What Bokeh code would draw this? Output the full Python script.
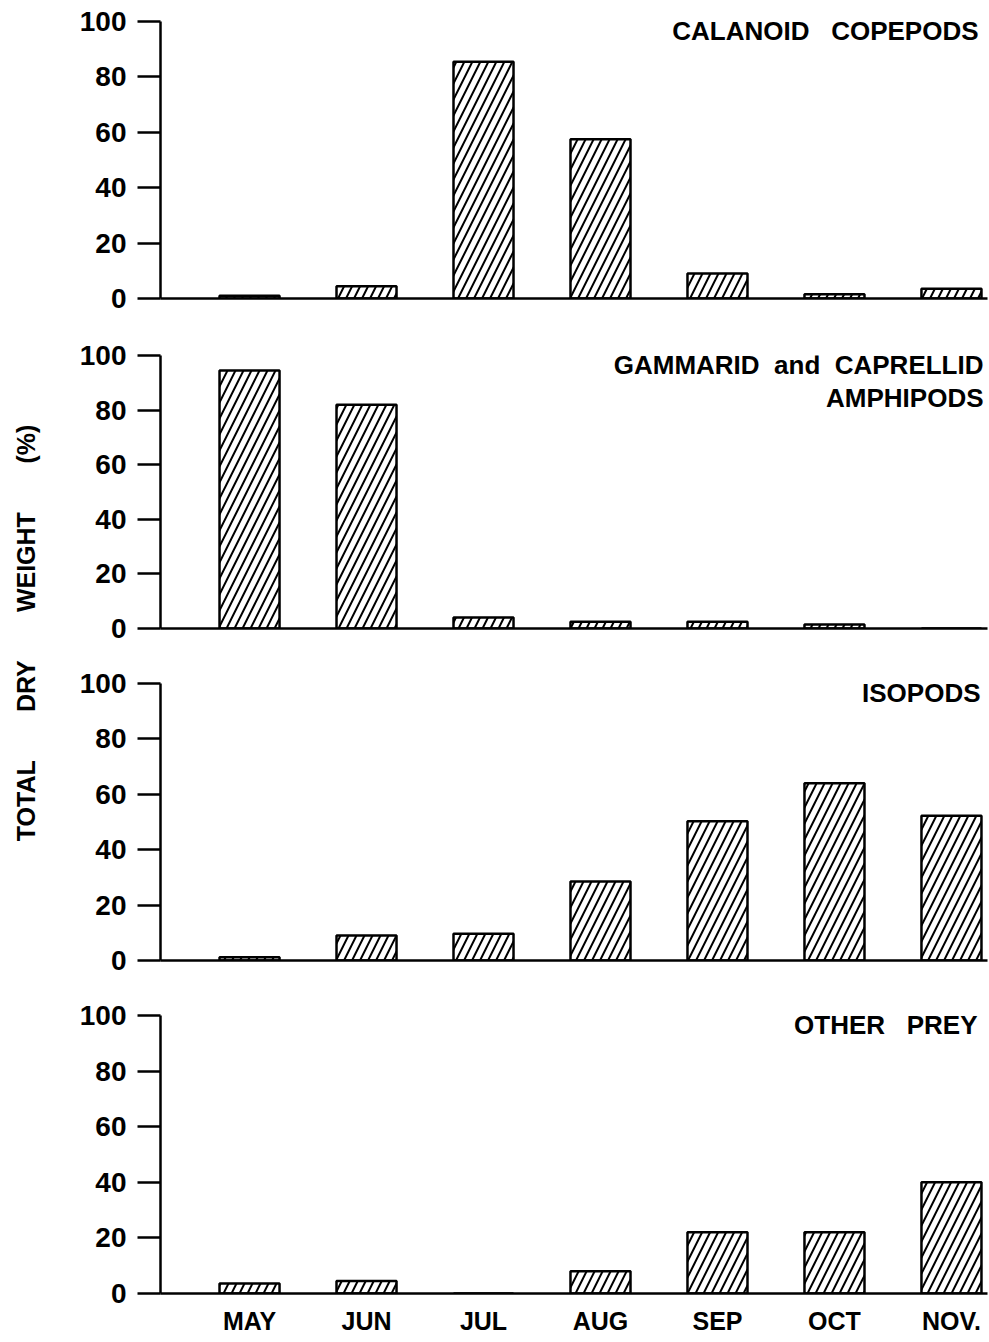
import math

from bokeh.core.properties import value
from bokeh.embed import file_html
from bokeh.layouts import column, row
from bokeh.models import FixedTicker, Label, Range1d
from bokeh.plotting import figure
from bokeh.resources import INLINE

# Monthly share of total dry weight (%) by prey group
months = ["MAY", "JUN", "JUL", "AUG", "SEP", "OCT", "NOV."]
calanoid_copepods = [1.0, 4.4, 85.5, 57.5, 9.0, 1.5, 3.5]
amphipods = [94.5, 82.0, 4.0, 2.5, 2.5, 1.5, 0.0]
isopods = [1.2, 9.0, 9.7, 28.5, 50.3, 64.0, 52.3]
other_prey = [3.6, 4.5, 0.0, 8.0, 22.0, 22.0, 40.0]

NB = "\u00a0"  # non-collapsing space for the wide word gaps
panel_titles = [
    ["CALANOID" + NB * 2 + " COPEPODS"],
    ["GAMMARID" + NB + " and" + NB + " CAPRELLID", "AMPHIPODS"],
    ["ISOPODS"],
    ["OTHER" + NB * 2 + " PREY"],
]
y_ticks = [0, 20, 40, 60, 80, 100]
y_label = ("TOTAL", "DRY", "WEIGHT", "(%)")

FONT = "Liberation Sans"
x_pos = list(range(1, len(months) + 1))
X_RANGE = (0.239, 7.308)

# (border_top, frame_height, border_bottom) for each stacked panel
panel_boxes = [(21, 277, 33), (24, 273, 30), (25, 277, 30), (25, 278, 49)]
series = [calanoid_copepods, amphipods, isopods, other_prey]
title_right_pad = [9, 4, 7, 10]

LEFT_STRIP = 50
MAIN_W = 989 - LEFT_STRIP
BORDER_LEFT = 110
BORDER_RIGHT = 2


def make_panel(values, title_lines, box, pad, show_months):
    top, frame_h, bottom = box
    p = figure(
        width=MAIN_W,
        height=top + frame_h + bottom,
        x_range=Range1d(*X_RANGE),
        y_range=Range1d(0, 100),
        output_backend="svg",
        toolbar_location=None,
        min_border_left=BORDER_LEFT,
        min_border_right=BORDER_RIGHT,
        min_border_top=top,
        min_border_bottom=bottom,
    )
    p.outline_line_color = None
    p.xgrid.visible = False
    p.ygrid.visible = False
    p.background_fill_color = "white"
    p.border_fill_color = "white"

    p.vbar(
        x=x_pos,
        top=values,
        bottom=0,
        width=0.513,
        fill_color="white",
        line_color="black",
        line_width=2.5,
        hatch_pattern="/",
        hatch_color="black",
        hatch_weight=2.0,
        hatch_scale=16,
    )

    for i, line in enumerate(title_lines):
        p.add_layout(
            Label(
                x=X_RANGE[1],
                y=100,
                text=line,
                text_align="right",
                text_baseline="top",
                x_offset=-pad,
                y_offset=6 - i * 33,
                text_font=FONT,
                text_font_style="bold",
                text_font_size="26px",
                text_color="black",
            )
        )

    ya = p.yaxis[0]
    ya.ticker = FixedTicker(ticks=y_ticks)
    ya.axis_line_width = 2.5
    ya.axis_line_color = "black"
    ya.major_tick_line_width = 2.5
    ya.major_tick_line_color = "black"
    ya.major_tick_in = 0
    ya.major_tick_out = 23
    ya.minor_tick_line_color = None
    ya.major_label_standoff = 11
    ya.major_label_text_font = FONT
    ya.major_label_text_font_style = "bold"
    ya.major_label_text_font_size = "28px"
    ya.major_label_text_color = "black"

    xa = p.xaxis[0]
    xa.axis_line_width = 2.5
    xa.axis_line_color = "black"
    xa.major_tick_line_color = None
    xa.major_tick_in = 0
    xa.major_tick_out = 0
    xa.minor_tick_line_color = None
    if show_months:
        xa.ticker = FixedTicker(ticks=x_pos)
        xa.major_label_overrides = {x: m for x, m in zip(x_pos, months)}
        xa.major_label_standoff = 13
        xa.major_label_text_font = FONT
        xa.major_label_text_font_style = "bold"
        xa.major_label_text_font_size = "25px"
        xa.major_label_text_color = "black"
    else:
        xa.ticker = FixedTicker(ticks=[])
        xa.major_label_standoff = 0
    return p


panels = [
    make_panel(vals, titles, box, pad, i == len(series) - 1)
    for i, (vals, titles, box, pad) in enumerate(
        zip(series, panel_titles, panel_boxes, title_right_pad)
    )
]

# Narrow strip carrying the shared vertical axis title
strip = figure(
    width=LEFT_STRIP,
    height=1342,
    x_range=Range1d(0, LEFT_STRIP),
    y_range=Range1d(1342, 0),
    output_backend="svg",
    toolbar_location=None,
    min_border=0,
)
strip.axis.visible = False
strip.grid.visible = False
strip.outline_line_color = None
strip.text(
    x=[25],
    y=[632],
    text=[(" " + NB * 6).join(y_label)],
    angle=math.pi / 2,
    text_align="center",
    text_baseline="middle",
    text_font=value(FONT),
    text_font_style="bold",
    text_font_size="25px",
    text_color="black",
)

layout = row(strip, column(*panels, spacing=0), spacing=0)

with open("out.html", "w") as f:
    f.write(file_html(layout, INLINE))
